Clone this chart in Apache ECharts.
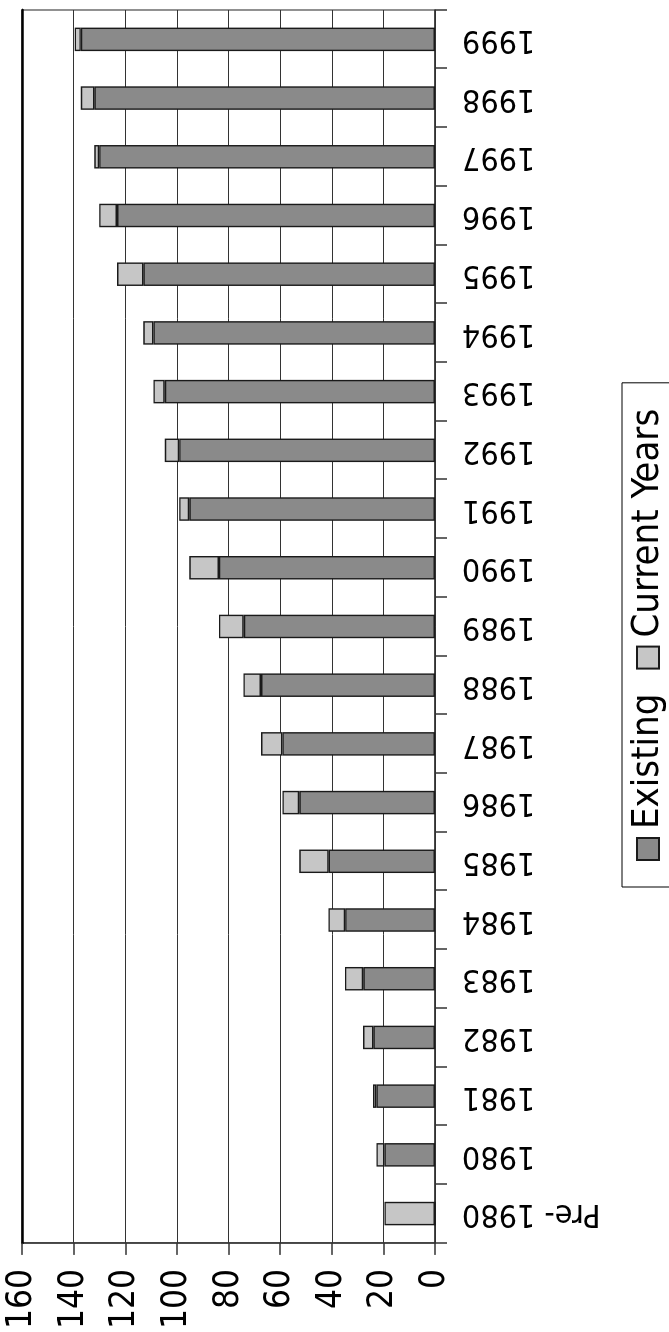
<!DOCTYPE html>
<html>
<head>
<meta charset="utf-8">
<title>Existing and Current Years</title>
<script src="https://cdn.jsdelivr.net/npm/echarts@6/dist/echarts.min.js"></script>
<style>
  html, body { margin: 0; padding: 0; width: 669px; height: 1332px; overflow: hidden; background: #fff; }
  /* The chart is laid out as a column chart and turned a quarter turn counter-clockwise */
  #chart {
    position: absolute; left: 0; top: 0;
    width: 1332px; height: 669px;
    transform-origin: 0 0;
    transform: translateY(1332px) rotate(-90deg);
  }
</style>
</head>
<body>
<div id="chart"></div>
<script>
// Categories along the axis
const categories = ['Pre- 1980', '1980', '1981', '1982', '1983', '1984', '1985', '1986', '1987', '1988',
  '1989', '1990', '1991', '1992', '1993', '1994', '1995', '1996', '1997', '1998', '1999'];

// Carried over from earlier years
const existing = [0, 19.6, 22.7, 23.9, 27.8, 34.8, 41.2, 52.6, 59.1, 67.4,
  74.1, 83.7, 95.2, 99.1, 104.7, 109.1, 113.0, 123.2, 130.1, 132.0, 137.2];

// Added in the year itself
const currentYears = [19.6, 3.1, 1.3, 4.0, 7.1, 6.5, 11.4, 6.5, 8.3, 6.8,
  9.6, 11.5, 3.9, 5.6, 4.4, 3.9, 10.2, 6.9, 1.9, 5.2, 2.4];

// Value axis ticks
const valueMin = 0;
const valueMax = 160;
const valueStep = 20;

const FONT = '"DejaVu Sans Condensed", "Liberation Sans Narrow", "DejaVu Sans", sans-serif';

const chart = echarts.init(document.getElementById('chart'), null, { renderer: 'canvas' });

chart.setOption({
  backgroundColor: '#ffffff',
  animation: false,
  textStyle: { fontFamily: FONT, color: '#000' },
  legend: {
    data: ['Existing', 'Current Years'],
    icon: 'rect',
    left: 445,
    top: 622,
    orient: 'horizontal',
    padding: [7, 26, 7, 26],
    itemGap: 24,
    itemWidth: 22,
    itemHeight: 22,
    borderColor: '#000',
    borderWidth: 1,
    textStyle: { fontFamily: FONT, fontSize: 38, color: '#000', padding: [0, 0, 0, 4] }
  },
  grid: {
    left: 83, right: 10, top: 22, bottom: 234,
    show: true, borderColor: '#222', borderWidth: 1, backgroundColor: '#fff'
  },
  xAxis: [
    {
      type: 'category',
      data: categories,
      position: 'bottom',
      boundaryGap: true,
      axisLine: { lineStyle: { color: '#333', width: 1.5 } },
      axisTick: { show: true, length: 12, inside: false, lineStyle: { color: '#333', width: 1.5 } },
      axisLabel: { rotate: 90, margin: 27, fontFamily: FONT, fontSize: 32, color: '#000', interval: 0 }
    },
    {
      // heavy rule along the top edge of the plot
      type: 'category',
      data: categories,
      position: 'top',
      axisLine: { lineStyle: { color: '#000', width: 2.5 } },
      axisTick: { show: false },
      axisLabel: { show: false },
      splitLine: { show: false }
    }
  ],
  yAxis: {
    type: 'value',
    min: valueMin,
    max: valueMax,
    interval: valueStep,
    axisLine: { show: true, lineStyle: { color: '#333', width: 1.5 } },
    axisTick: { show: true, length: 12, inside: false, lineStyle: { color: '#333', width: 1.5 } },
    axisLabel: { margin: 26, fontFamily: FONT, fontSize: 35, color: '#000' },
    splitLine: { show: true, lineStyle: { color: '#333', width: 1 } }
  },
  series: [
    {
      name: 'Existing',
      type: 'bar',
      stack: 'total',
      data: existing,
      barWidth: '40%',
      itemStyle: { color: '#8a8a8a', borderColor: '#1a1a1a', borderWidth: 1.4 }
    },
    {
      name: 'Current Years',
      type: 'bar',
      stack: 'total',
      data: currentYears,
      barWidth: '40%',
      itemStyle: { color: '#c6c6c6', borderColor: '#1a1a1a', borderWidth: 1.4 }
    }
  ]
});
</script>
</body>
</html>
